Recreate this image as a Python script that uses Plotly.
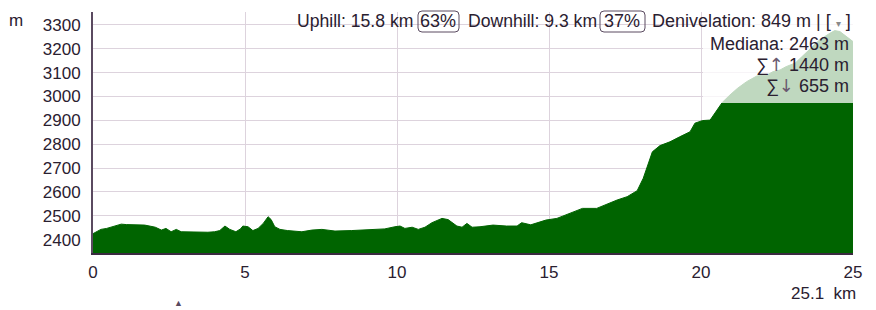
import plotly.graph_objects as go

# Elevation profile data (km, m)
km = [0.0, 0.1, 0.26, 0.45, 0.6, 0.8, 0.93, 1.1, 1.26, 1.5, 1.7, 1.9, 2.05, 2.25, 2.4, 2.57,
      2.74, 2.9, 3.1, 3.35, 3.6, 3.78, 4.0, 4.17, 4.34, 4.5, 4.7, 4.85, 4.93, 5.1, 5.26, 5.43,
      5.6, 5.76, 5.86, 5.98, 6.15, 6.4, 6.87, 7.2, 7.53, 7.96, 8.5, 9.05, 9.6, 9.93, 10.1,
      10.26, 10.5, 10.7, 10.92, 11.15, 11.48, 11.68, 11.97, 12.14, 12.3, 12.47, 12.73, 13.16,
      13.6, 13.95, 14.1, 14.4, 14.9, 15.26, 15.6, 15.9, 16.1, 16.57, 16.9, 17.24, 17.57, 17.9,
      18.1, 18.26, 18.4, 18.65, 18.98, 19.3, 19.64, 19.8, 20.05, 20.3, 20.45, 20.7, 20.95,
      21.2, 21.5, 21.84, 22.17, 22.37, 22.6, 22.8, 23.1, 23.3, 23.5, 23.9, 24.24, 24.4, 24.57,
      24.8, 25.0]
elev = [2425, 2432, 2443, 2447, 2452, 2458, 2465, 2463, 2462, 2460, 2461, 2456, 2452, 2440,
        2447, 2433, 2443, 2433, 2432, 2431, 2430, 2431, 2433, 2438, 2457, 2443, 2433, 2445,
        2457, 2454, 2438, 2447, 2468, 2496, 2484, 2454, 2443, 2438, 2433, 2440, 2443, 2436,
        2438, 2440, 2445, 2454, 2457, 2447, 2452, 2443, 2452, 2471, 2489, 2484, 2457, 2452,
        2468, 2452, 2454, 2461, 2457, 2457, 2471, 2462, 2482, 2489, 2507, 2520, 2531, 2531,
        2549, 2566, 2580, 2605, 2657, 2720, 2768, 2794, 2810, 2831, 2852, 2888, 2899, 2901,
        2930, 2975, 3006, 3034, 3062, 3086, 3090, 3104, 3111, 3125, 3140, 3165, 3188, 3237,
        3265, 3276, 3272, 3251, 3230]

x_ticks = [0, 5, 10, 15, 20, 25]
y_ticks = [2400, 2500, 2600, 2700, 2800, 2900, 3000, 3100, 3200, 3300]

W, H = 876, 310
L, R, T, B = 93, 23, 12, 57
PW, PH = W - L - R, H - T - B

def px(x):
    return (x - L) / PW

def py(y):
    return (H - B - y) / PH

FONT = "Liberation Sans, Arial, sans-serif"
TXT = "#2a2030"

fig = go.Figure()
fig.add_trace(go.Scatter(x=km, y=elev, mode="lines", fill="tozeroy",
                         line=dict(color="#006400", width=1), fillcolor="#006400",
                         hoverinfo="skip"))

fig.update_layout(
    width=W, height=H, margin=dict(l=L, r=R, t=T, b=B),
    paper_bgcolor="white", plot_bgcolor="white", showlegend=False,
    font=dict(family=FONT, size=17, color=TXT),
    xaxis=dict(range=[0, 25], tickvals=x_ticks, showgrid=True, gridcolor="#ddd3dd",
               gridwidth=1, showline=True, linecolor="#3a2a40", linewidth=2, zeroline=False,
               ticks="", ticklabelstandoff=3, tickfont=dict(size=17, color=TXT)),
    yaxis=dict(range=[2344, 3354], tickvals=y_ticks, showgrid=True, gridcolor="#ddd3dd",
               gridwidth=1, showline=True, linecolor="#5a4a60", linewidth=2, zeroline=False,
               ticks="", ticklabelstandoff=7, tickfont=dict(size=17, color=TXT)),
)

# semi-transparent info box over the top-right part of the profile
fig.add_shape(type="rect", xref="paper", yref="paper", x0=px(703), x1=1.0,
              y0=py(103), y1=1.0, fillcolor="rgba(255,255,255,0.75)",
              line=dict(width=0), layer="above")

def ann(text, x, y, xanchor="left", size=18, color=TXT, **kw):
    fig.add_annotation(text=text, xref="paper", yref="paper", x=px(x), y=py(y),
                       xanchor=xanchor, yanchor="middle", showarrow=False,
                       font=dict(family=FONT, size=size, color=color), **kw)

def pill_px(x0, x1, y0, y1):
    # rounded rectangle given in pixel coordinates, drawn in paper coordinates
    rx, ry = 4 / PW, 4 / PH
    X0, X1, Y0, Y1 = px(x0), px(x1), py(y1), py(y0)
    path = (f"M {X0+rx},{Y0} L {X1-rx},{Y0} Q {X1},{Y0} {X1},{Y0+ry} L {X1},{Y1-ry} "
            f"Q {X1},{Y1} {X1-rx},{Y1} L {X0+rx},{Y1} Q {X0},{Y1} {X0},{Y1-ry} "
            f"L {X0},{Y0+ry} Q {X0},{Y0} {X0+rx},{Y0} Z")
    fig.add_shape(type="path", xref="paper", yref="paper", path=path,
                  line=dict(color="#5a4a60", width=1), layer="above")

top_y = 21
ann("Uphill: 15.8 km", 295, top_y, size=17.6)
ann("63%", 438, top_y, xanchor="center")
pill_px(418, 459, 11, 32)
ann("Downhill: 9.3 km", 466, top_y, size=17.6)
ann("37%", 622, top_y, xanchor="center")
pill_px(600, 645, 11, 32)
ann("Denivelation: 849 m | [ <span style='font-size:10px;color:#8a8a8a'>▾</span> ]",
    853, top_y, xanchor="right")

ann("Mediana: 2463 m", 851, 44, xanchor="right")
ann("∑<span style='color:#6a5a70;font-family:DejaVu Sans'>↑</span> 1440 m", 851, 64, xanchor="right")
ann("∑<span style='color:#6a5a70;font-family:DejaVu Sans'>↓</span> 655 m", 851, 85, xanchor="right")

ann("m", 16, 20, xanchor="center", size=17)
ann("25.1  km", 858, 293, xanchor="right", size=17)
ann("▲", 178, 303, xanchor="center", size=9, color="#5a4a60")

fig.write_html("out.html")
